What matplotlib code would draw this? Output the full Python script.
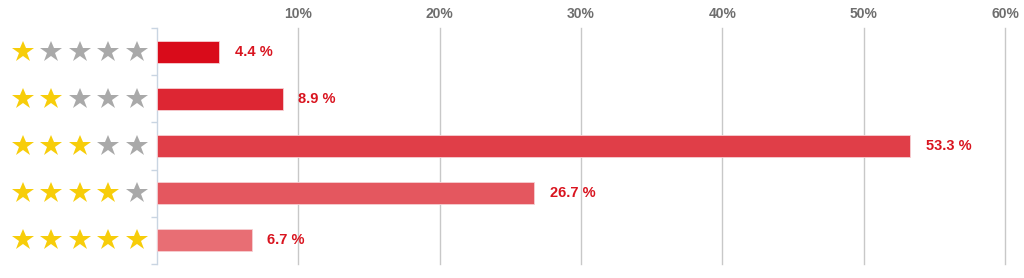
import matplotlib
matplotlib.use("Agg")
import matplotlib.pyplot as plt
from matplotlib.ticker import FixedLocator

# rating rows, top to bottom
stars = [1, 2, 3, 4, 5]
shares = [4.4, 8.9, 53.3, 26.7, 6.7]
bar_colors = ["#d90b1a", "#dd2633", "#e03e48", "#e4575f", "#e86e74"]
tick_vals = [10, 20, 30, 40, 50, 60]
tick_labels = ["10%", "20%", "30%", "40%", "50%", "60%"]

W, H = 1024, 278
fig = plt.figure(figsize=(W / 100, H / 100), dpi=100)

x0, x1 = 157, 1005
y_top, y_bot = 28, 264
ax = fig.add_axes([x0 / W, 1 - y_bot / H, (x1 - x0) / W, (y_bot - y_top) / H])
sax = fig.add_axes([0, 1 - y_bot / H, x0 / W, (y_bot - y_top) / H], sharey=ax)

ypos = list(range(len(stars)))
ax.barh(ypos, shares, height=0.47, color=bar_colors, edgecolor="#f6d0d3", linewidth=0.6, zorder=3)
for y, v in zip(ypos, shares):
    ax.text(v + 1.1, y, "{:.1f} %".format(v), va="center", ha="left",
            color="#d9141f", fontsize=10.5, fontweight="bold", family="Liberation Sans")

ax.set_xlim(0, 60)
ax.set_ylim(len(stars) - 0.5, -0.5)
ax.xaxis.tick_top()
ax.set_xticks(tick_vals)
ax.set_xticklabels(tick_labels, color="#6e6e6e", fontsize=10, fontweight="bold", family="Liberation Sans")
ax.tick_params(axis="x", length=0, pad=5)
ax.grid(axis="x", color="#c8c8c8", linewidth=1, zorder=0)
for gl in ax.xaxis.get_gridlines():
    gl.set_clip_on(False)
ax.set_yticks([])
ax.yaxis.set_minor_locator(FixedLocator([i - 0.5 for i in range(len(stars) + 1)]))
ax.tick_params(axis="y", which="minor", left=True, length=4, color="#c9d5e2", width=1)
for s in ["top", "right", "bottom"]:
    ax.spines[s].set_visible(False)
ax.spines["left"].set_color("#c9d5e2")
ax.spines["left"].set_linewidth(1)

# star rows
for y, n in zip(ypos, stars):
    for k in range(5):
        c = "#f7cd0a" if k < n else "#a9a9a9"
        sax.plot(k + 1, y, marker="*", markersize=16.5, color=c, markeredgewidth=0, clip_on=False)
sax.set_xlim(1 - 23 / 28.5, 1 + (157 - 23) / 28.5)
sax.axis("off")

fig.savefig("out.png", dpi=100)
